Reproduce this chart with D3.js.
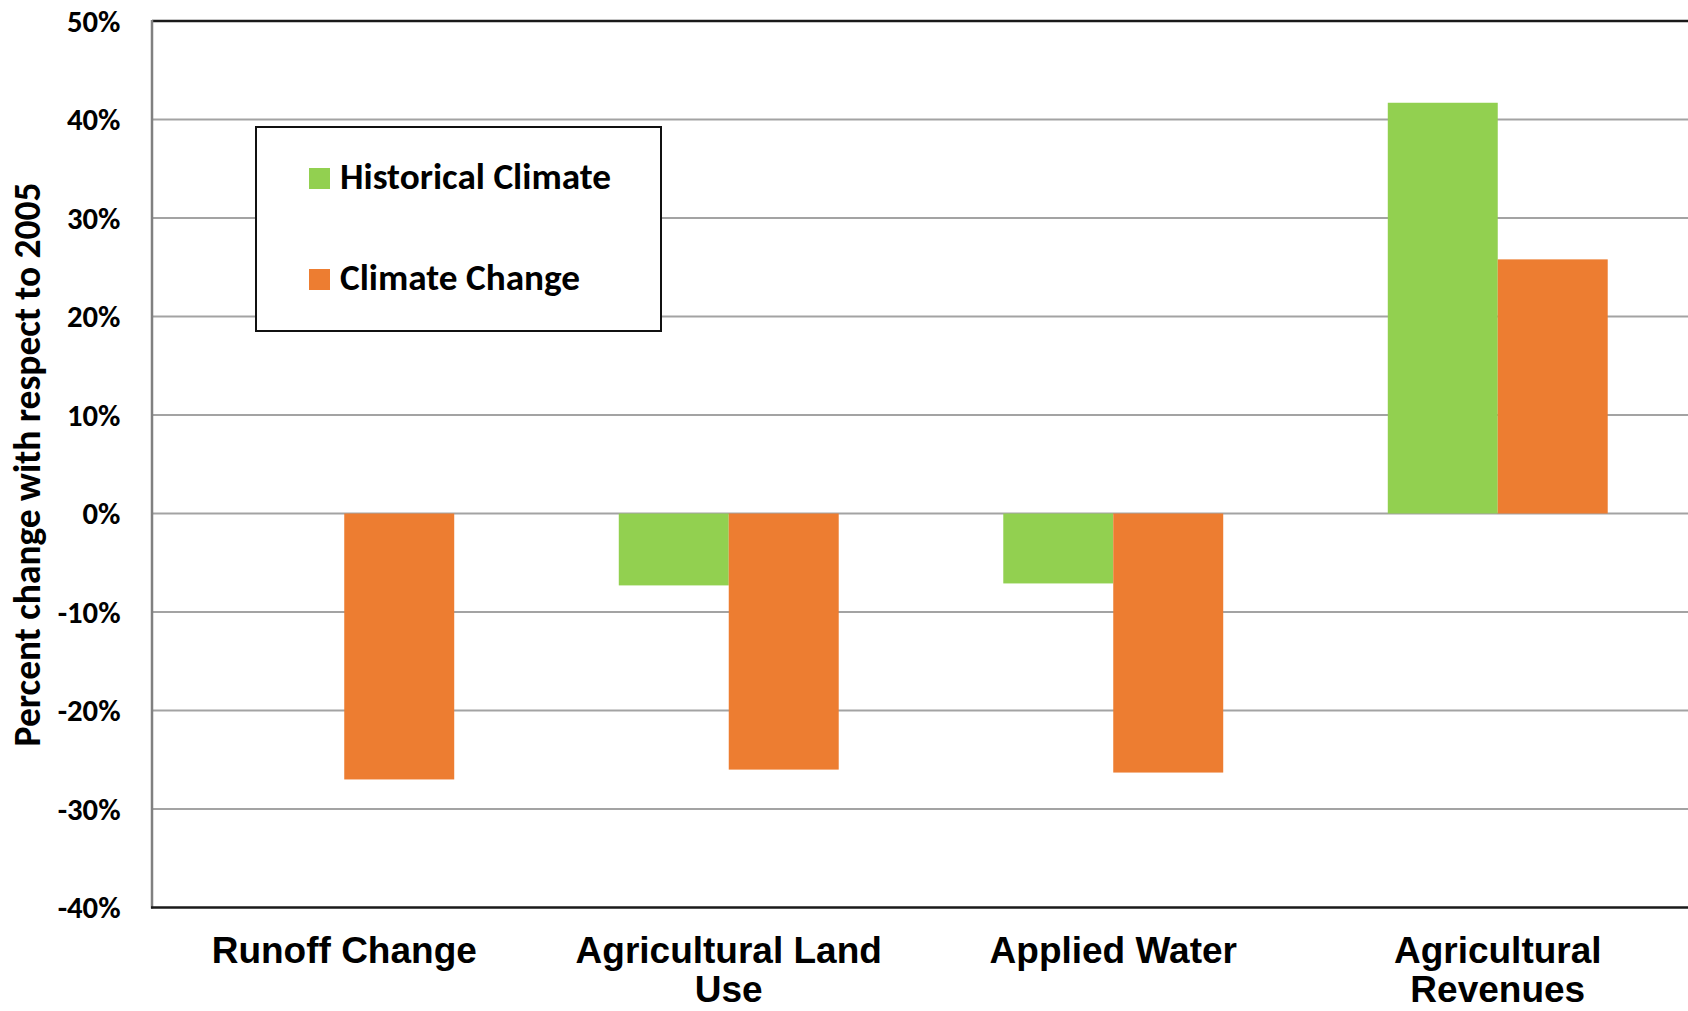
<!DOCTYPE html>
<html>
<head>
<meta charset="utf-8">
<script src="https://cdn.jsdelivr.net/npm/d3@7"></script>
<style>
html,body{margin:0;padding:0;background:#fff;}
svg{display:block;}
</style>
</head>
<body>
<svg id="chart" width="1688" height="1011"></svg>
<script>
// ---- data ----
const categories = ["Runoff Change", "Agricultural Land Use", "Applied Water", "Agricultural Revenues"];
const categoryLines = [["Runoff Change"], ["Agricultural Land", "Use"], ["Applied Water"], ["Agricultural", "Revenues"]];
const seriesNames = ["Historical Climate", "Climate Change"];
const historicalClimate = [0, -7.3, -7.1, 41.7];
const climateChange = [-27.0, -26.0, -26.3, 25.8];
const yTicks = [-40, -30, -20, -10, 0, 10, 20, 30, 40, 50];
const yTitle = "Percent change with respect to 2005";

const colors = ["#92D050", "#ED7D31"];
const seriesValues = [historicalClimate, climateChange];

const svg = d3.select("#chart");
const W = 1688, H = 1011;
const m = {left: 152, top: 21, right: 1690, bottom: 907.5};

const x0 = d3.scaleBand().domain(categories).range([m.left, m.right])
  .paddingInner(0.428).paddingOuter(0.214);
const x1 = d3.scaleBand().domain(seriesNames).range([0, x0.bandwidth()]);
const y = d3.scaleLinear().domain([-40, 50]).range([m.bottom, m.top]);

const calibri = "Carlito, Calibri, Lato, 'Open Sans', sans-serif";
const arial = "'Liberation Sans', Arial, sans-serif";

function fitWidth(sel, target) {
  sel.each(function() {
    const fs = parseFloat(this.getAttribute("font-size"));
    const len = this.getComputedTextLength();
    if (len > 0) this.setAttribute("font-size", (fs * target / len).toFixed(2));
  });
}

// gridlines
svg.append("g").selectAll("line").data(yTicks.filter(t => t > -40 && t < 50))
  .join("line")
  .attr("x1", m.left).attr("x2", m.right)
  .attr("y1", d => y(d)).attr("y2", d => y(d))
  .attr("stroke", "#a3a3a3").attr("stroke-width", 2);

// bars
const rows = categories.map((c, i) => ({cat: c, vals: seriesNames.map((s, j) => ({s, j, v: seriesValues[j][i]}))}));
svg.append("g").selectAll("g").data(rows).join("g")
  .attr("transform", d => `translate(${x0(d.cat)},0)`)
  .selectAll("rect").data(d => d.vals.filter(v => v.v !== 0)).join("rect")
  .attr("x", d => x1(d.s))
  .attr("width", x1.bandwidth())
  .attr("y", d => y(Math.max(0, d.v)))
  .attr("height", d => Math.abs(y(d.v) - y(0)))
  .attr("fill", d => colors[d.j]);

// top border
svg.append("line").attr("x1", m.left).attr("x2", m.right).attr("y1", y(50)).attr("y2", y(50))
  .attr("stroke", "#1a1a1a").attr("stroke-width", 2.5);
// left axis
svg.append("line").attr("x1", m.left).attr("x2", m.left).attr("y1", m.top - 1).attr("y2", m.bottom + 1)
  .attr("stroke", "#808080").attr("stroke-width", 2.5);
// bottom axis
svg.append("line").attr("x1", m.left - 1).attr("x2", m.right).attr("y1", y(-40)).attr("y2", y(-40))
  .attr("stroke", "#1a1a1a").attr("stroke-width", 2.5);

// y tick labels
const yl = svg.append("g").selectAll("text").data(yTicks).join("text")
  .attr("x", 120.5).attr("y", d => y(d))
  .attr("text-anchor", "end").attr("dominant-baseline", "central")
  .attr("font-family", calibri).attr("font-weight", "bold").attr("font-size", 30)
  .attr("fill", "#000")
  .text(d => d + "%");
(function(){
  const n = yl.filter(d => d === 50).node();
  const len = n.getComputedTextLength();
  const fs = 30 * 53.5 / len;
  yl.attr("font-size", fs.toFixed(2));
})();

// y title
const yt = svg.append("text")
  .attr("transform", `translate(27,464.5) rotate(-90)`)
  .attr("text-anchor", "middle").attr("dominant-baseline", "central")
  .attr("font-family", calibri).attr("font-weight", "bold").attr("font-size", 36)
  .attr("fill", "#000").text(yTitle);
fitWidth(yt, 564);

// category labels
svg.append("g").selectAll("text").data(categories).join("text")
  .attr("x", d => x0(d) + x0.bandwidth() / 2)
  .attr("y", 963)
  .attr("text-anchor", "middle")
  .attr("font-family", arial).attr("font-weight", "bold").attr("font-size", 37)
  .attr("fill", "#000")
  .each(function(d, i) {
    d3.select(this).selectAll("tspan").data(categoryLines[i]).join("tspan")
      .attr("x", x0(d) + x0.bandwidth() / 2)
      .attr("dy", (t, k) => k === 0 ? 0 : 39)
      .text(t => t);
  });

// legend
const lg = svg.append("g");
lg.append("rect").attr("x", 256).attr("y", 127).attr("width", 405).attr("height", 204)
  .attr("fill", "#fff").attr("stroke", "#111").attr("stroke-width", 2);
const items = lg.selectAll("g").data(seriesNames).join("g")
  .attr("transform", (d, i) => `translate(309,${168 + i * 101})`);
items.append("rect").attr("width", 21).attr("height", 21).attr("fill", (d, i) => colors[i]);
const lt = items.append("text").attr("x", 31).attr("y", 21)
  .attr("font-family", calibri).attr("font-weight", "bold").attr("font-size", 36)
  .attr("fill", "#000").text(d => d);
(function(){
  const n = lt.filter(d => d === "Historical Climate").node();
  const len = n.getComputedTextLength();
  lt.attr("font-size", (36 * 271 / len).toFixed(2));
})();
</script>
</body>
</html>
